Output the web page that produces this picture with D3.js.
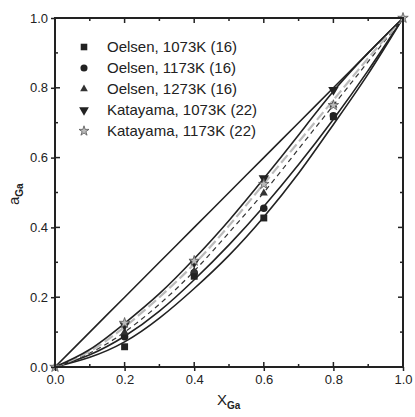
<!DOCTYPE html>
<html>
<head>
<meta charset="utf-8">
<script src="https://cdn.jsdelivr.net/npm/d3@7"></script>
<style>
  body { margin: 0; background: #fff; }
  svg text { font-family: "Liberation Sans", Arial, sans-serif; fill: #222; }
</style>
</head>
<body>
<svg id="chart" width="415" height="417"></svg>
<script>
// composition grid for the fitted curves
var xs = [0, 0.1, 0.2, 0.3, 0.4, 0.5, 0.6, 0.7, 0.8, 0.9, 1.0];

// fitted curves (activity at each xs)
var raoult   = [0, 0.1, 0.2, 0.3, 0.4, 0.5, 0.6, 0.7, 0.8, 0.9, 1.0];
var fitK1073 = [0, 0.05, 0.125, 0.21, 0.31, 0.42, 0.54, 0.665, 0.79, 0.90, 1.0];
var fitK1173 = [0, 0.045, 0.115, 0.20, 0.295, 0.405, 0.525, 0.645, 0.765, 0.885, 1.0];
var fitO1273 = [0, 0.04, 0.10, 0.18, 0.275, 0.385, 0.50, 0.625, 0.75, 0.875, 1.0];
var fitO1173 = [0, 0.035, 0.088, 0.16, 0.25, 0.35, 0.46, 0.58, 0.71, 0.85, 1.0];
var fitO1073 = [0, 0.028, 0.072, 0.14, 0.225, 0.32, 0.43, 0.555, 0.695, 0.84, 1.0];

// measured points
var ptX      = [0.2, 0.4, 0.6, 0.8];
var oel1073  = [0.058, 0.26, 0.427, 0.717];
var oel1173  = [0.087, 0.27, 0.455, 0.72];
var oel1273  = [0.10, 0.275, 0.498, 0.75];
var kat1073  = [0.12, 0.30, 0.541, 0.794];
var katX1173 = [0, 0.2, 0.4, 0.6, 0.8, 1.0];
var kat1173  = [0, 0.126, 0.304, 0.524, 0.75, 1.0];

var legendLabels = ["Oelsen, 1073K (16)", "Oelsen, 1173K (16)", "Oelsen, 1273K (16)",
                    "Katayama, 1073K (22)", "Katayama, 1173K (22)"];
var tickVals = [0, 0.2, 0.4, 0.6, 0.8, 1.0];
var minorVals = [0.1, 0.3, 0.5, 0.7, 0.9];

var mLeft = 55, mTop = 18, w = 348, h = 349;
var svg = d3.select("#chart");
var g = svg.append("g").attr("transform", "translate(" + mLeft + "," + mTop + ")");

var x = d3.scaleLinear().domain([0, 1]).range([0, w]);
var y = d3.scaleLinear().domain([0, 1]).range([h, 0]);

var line = d3.line()
  .x(function(d) { return x(d[0]); })
  .y(function(d) { return y(d[1]); })
  .curve(d3.curveNatural);

function zip(a, b) { return a.map(function(v, i) { return [v, b[i]]; }); }

var curves = [
  { v: raoult,   stroke: "#222", dash: null,   width: 1.6 },
  { v: fitO1073, stroke: "#222", dash: null,   width: 1.6 },
  { v: fitO1173, stroke: "#222", dash: null,   width: 1.6 },
  { v: fitO1273, stroke: "#333", dash: "5,4",  width: 1.2 },
  { v: fitK1173, stroke: "#bbb", dash: "10,4", width: 2.2 },
  { v: fitK1073, stroke: "#222", dash: null,   width: 1.6 }
];

curves.forEach(function(c) {
  g.append("path")
    .attr("d", line(zip(xs, c.v)))
    .attr("fill", "none")
    .attr("stroke", c.stroke)
    .attr("stroke-width", c.width)
    .attr("stroke-dasharray", c.dash);
});

// symbols
var sym = {
  square: { type: d3.symbolSquare, size: 48, fill: "#222", stroke: "none", rot: 0 },
  circle: { type: d3.symbolCircle, size: 44, fill: "#222", stroke: "none", rot: 0 },
  up:     { type: d3.symbolTriangle, size: 28, fill: "#333", stroke: "none", rot: 0 },
  down:   { type: d3.symbolTriangle, size: 46, fill: "#222", stroke: "none", rot: 180 },
  star:   { type: d3.symbolStar, size: 34, fill: "#bbb", stroke: "#555", rot: 0 }
};

function drawPoints(xv, yv, s) {
  g.selectAll(null).data(zip(xv, yv)).enter().append("path")
    .attr("d", d3.symbol().type(s.type).size(s.size))
    .attr("transform", function(d) { return "translate(" + x(d[0]) + "," + y(d[1]) + ") rotate(" + s.rot + ")"; })
    .attr("fill", s.fill)
    .attr("stroke", s.stroke)
    .attr("stroke-width", 0.8);
}
drawPoints(ptX, oel1073, sym.square);
drawPoints(ptX, oel1173, sym.circle);
drawPoints(ptX, oel1273, sym.up);
drawPoints(ptX, kat1073, sym.down);
drawPoints(katX1173, kat1173, sym.star);

// frame
g.append("rect").attr("width", w).attr("height", h)
  .attr("fill", "none").attr("stroke", "#222").attr("stroke-width", 2);

// axes
var fmt = d3.format(".1f");
var xAxis = g.append("g").attr("transform", "translate(0," + h + ")")
  .call(d3.axisBottom(x).tickValues(tickVals).tickFormat(fmt).tickSize(4).tickPadding(4));
var yAxis = g.append("g")
  .call(d3.axisLeft(y).tickValues(tickVals).tickFormat(fmt).tickSize(4).tickPadding(3));
[xAxis, yAxis].forEach(function(a) {
  a.select(".domain").remove();
  a.selectAll(".tick line").attr("stroke", "#222").attr("stroke-width", 1.5);
  a.selectAll(".tick text").style("font-size", "13px").attr("fill", "#222");
});

// inward minor ticks and mirrored ticks on top/right
function inTicks(vals, len) {
  vals.forEach(function(v) {
    g.append("line").attr("class", "in").attr("x1", x(v)).attr("x2", x(v)).attr("y1", h).attr("y2", h - len);
    g.append("line").attr("class", "in").attr("x1", x(v)).attr("x2", x(v)).attr("y1", 0).attr("y2", len);
    g.append("line").attr("class", "in").attr("x1", 0).attr("x2", len).attr("y1", y(v)).attr("y2", y(v));
    g.append("line").attr("class", "in").attr("x1", w).attr("x2", w - len).attr("y1", y(v)).attr("y2", y(v));
  });
}
inTicks(minorVals, 3);
inTicks(tickVals.slice(1, 5), 5);
g.selectAll("line.in").attr("stroke", "#222").attr("stroke-width", 1.5);

// legend
var legSyms = [sym.square, sym.circle, sym.up, sym.down, sym.star];
var leg = svg.append("g");
legendLabels.forEach(function(t, i) {
  var cy = 47 + i * 21;
  var s = legSyms[i];
  leg.append("path")
    .attr("d", d3.symbol().type(s.type).size(s.size * 0.9))
    .attr("transform", "translate(84," + cy + ") rotate(" + s.rot + ")")
    .attr("fill", s.fill).attr("stroke", s.stroke).attr("stroke-width", 0.8);
  leg.append("text").attr("x", 107).attr("y", cy + 5)
    .style("font-size", "15px").text(t);
});

// axis titles
var xt = svg.append("text").attr("x", 217).attr("y", 405).style("font-size", "15px");
xt.append("tspan").text("X");
xt.append("tspan").attr("dy", 4).style("font-size", "10px").style("font-weight", "bold").text("Ga");

var yt = svg.append("text").attr("transform", "translate(19,205) rotate(-90)").style("font-size", "15px");
yt.append("tspan").text("a");
yt.append("tspan").attr("dy", 4).style("font-size", "10px").style("font-weight", "bold").text("Ga");
</script>
</body>
</html>
